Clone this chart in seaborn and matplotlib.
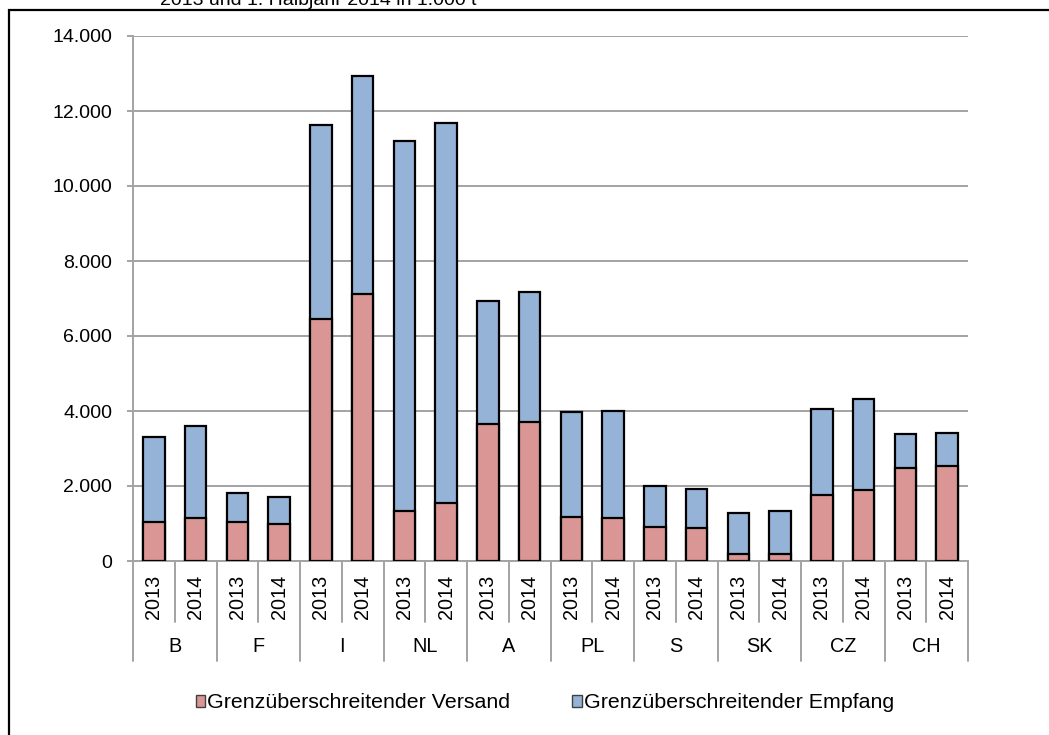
import matplotlib
matplotlib.use("Agg")
import matplotlib.pyplot as plt
import matplotlib.transforms as mtransforms
from matplotlib.patches import Patch, Rectangle
from matplotlib.ticker import FuncFormatter, MultipleLocator
import pandas as pd
import seaborn as sns

# Countries and half-year periods
countries = ["B", "F", "I", "NL", "A", "PL", "S", "SK", "CZ", "CH"]
years = ["2013", "2014"]

# Cross-border shipments (Versand) in 1.000 t, per country: 2013, 2014
versand = [1040, 1140, 1050, 990, 6450, 7120, 1340, 1540, 3650, 3700,
           1180, 1140, 900, 870, 195, 185, 1760, 1890, 2490, 2530]
# Cross-border receipts (Empfang) in 1.000 t, per country: 2013, 2014
empfang = [2260, 2460, 770, 725, 5180, 5810, 9870, 10150, 3270, 3480,
           2790, 2870, 1100, 1050, 1085, 1140, 2300, 2430, 900, 875]

label_versand = "Grenzüberschreitender Versand"
label_empfang = "Grenzüberschreitender Empfang"
subtitle = "2013 und 1. Halbjahr 2014 in 1.000 t"

RED = "#D99694"
BLUE = "#95B3D7"
GRID = "#A3A3A3"

sns.set_style("white")
plt.rcParams["font.family"] = ["Liberation Sans", "DejaVu Sans"]
plt.rcParams["font.size"] = 14
plt.rcParams["text.color"] = "black"

bars = [f"{c} {y}" for c in countries for y in years]
df = pd.DataFrame({
    "bar": bars,
    "versand": versand,
    "total": [v + e for v, e in zip(versand, empfang)],
})

W, H = 1049, 735
fig = plt.figure(figsize=(W / 100, H / 100), dpi=100)
ax = fig.add_axes([133 / W, 1 - 561 / H, (968 - 133) / W, (561 - 36) / H])

# Stacked bars: full height in blue, the Versand part drawn over it in red
sns.barplot(data=df, x="bar", y="total", order=bars, color=BLUE, saturation=1,
            edgecolor="black", linewidth=1.6, width=0.51, errorbar=None, ax=ax,
            zorder=3)
sns.barplot(data=df, x="bar", y="versand", order=bars, color=RED, saturation=1,
            edgecolor="black", linewidth=1.6, width=0.51, errorbar=None, ax=ax,
            zorder=4)

ax.set_xlim(-0.5, len(bars) - 0.5)
ax.set_ylim(0, 14000)
ax.yaxis.set_major_locator(MultipleLocator(2000))
ax.yaxis.set_major_formatter(FuncFormatter(lambda v, _: f"{v:,.0f}".replace(",", ".")))
ax.grid(axis="y", color=GRID, linewidth=1.4)
ax.set_axisbelow(True)
ax.set_xlabel("")
ax.set_ylabel("")
ax.set_xticks([])

for side in ("top", "right"):
    ax.spines[side].set_visible(False)
for side in ("left", "bottom"):
    ax.spines[side].set_color(GRID)
    ax.spines[side].set_linewidth(1.4)
ax.tick_params(axis="y", which="major", left=True, length=4, width=1.4,
               color=GRID, pad=11, labelsize=14, labelcolor="black")

# Two-level category axis below the plot
trans = mtransforms.blended_transform_factory(ax.transData, ax.transAxes)
year_y = -(597 - 561) / 525
group_y = -(647 - 561) / 525
inner_bottom = -(622 - 561) / 525
outer_bottom = -(661 - 561) / 525

for i, b in enumerate(bars):
    ax.text(i, year_y, b.split()[1], transform=trans, rotation=90,
            ha="center", va="center", fontsize=14.3)
for g, c in enumerate(countries):
    ax.text(2 * g + 0.5, group_y, c, transform=trans, ha="center",
            va="center", fontsize=14.3)
    ax.plot([2 * g + 0.5, 2 * g + 0.5], [0, inner_bottom], transform=trans,
            color=GRID, linewidth=1.4, clip_on=False)
for g in range(len(countries) + 1):
    x = 2 * g - 0.5
    ax.plot([x, x], [0, outer_bottom], transform=trans, color=GRID,
            linewidth=1.4, clip_on=False)

# Legend
handles = [Patch(facecolor=RED, edgecolor="#404040", linewidth=1.0, label=label_versand),
           Patch(facecolor=BLUE, edgecolor="#404040", linewidth=1.0, label=label_empfang)]
fig.legend(handles=handles, loc="center", bbox_to_anchor=(545 / W, 1 - 703 / H),
           ncol=2, frameon=False, fontsize=15.4, handlelength=0.45, handleheight=0.45,
           handletextpad=0.1, columnspacing=2.9)

# Subtitle running off the top edge
fig.text(160 / W, 1 - 5 / H, subtitle, ha="left", va="baseline", fontsize=14)

# Chart frame
fig.patches.append(Rectangle((9 / W, -0.05), 1.1, 1 - 10 / H + 0.05,
                             transform=fig.transFigure, fill=False,
                             edgecolor="black", linewidth=1.6))

fig.savefig("out.png", dpi=100)
